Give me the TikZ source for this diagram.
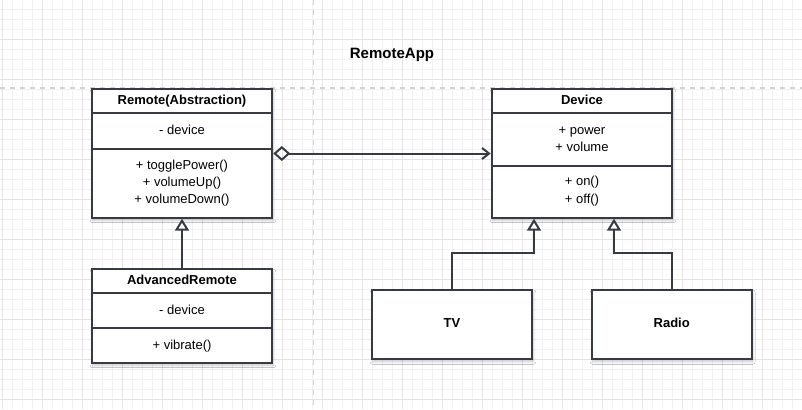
\documentclass[tikz,border=0pt]{standalone}
\usepackage{fontspec}
\setmainfont{Liberation Sans}
\usetikzlibrary{arrows.meta,shadows.blur}
\definecolor{ink}{HTML}{363B42}
\definecolor{gridminor}{HTML}{F1F1F1}
\definecolor{gridmajor}{HTML}{E4E4E4}
\definecolor{sepgray}{HTML}{D2D2D2}
\begin{document}
\begin{tikzpicture}[x=1bp,y=-1bp,
  cls/.style={draw=ink, line width=2bp, fill=white, inner sep=0pt,
    blur shadow={shadow xshift=1bp, shadow yshift=-2.5bp, shadow blur radius=2.5bp, shadow opacity=22}},
  txt/.style={font=\fontsize{13bp}{15.6bp}\selectfont, text=black, inner sep=0pt, anchor=base, yshift=-4.7bp},
  bold/.style={font=\fontsize{13bp}{15.6bp}\selectfont\bfseries, text=black, inner sep=0pt, anchor=base, yshift=-4.7bp},
  div/.style={draw=ink, line width=2bp},
  agg/.style={draw=ink, line width=2bp,
    {Diamond[open, length=17bp, width=15bp]}-{Straight Barb[length=7bp, width=11bp]}},
  gen/.style={draw=ink, line width=2bp, -{Triangle[open, length=12bp, width=14bp]}},
  sepline/.style={draw=sepgray, line width=1.5bp, dash pattern=on 5bp off 5bp}]
\useasboundingbox (0,0) rectangle (802,409);
\fill[white] (0,0) rectangle (802,409);
% grid
\foreach \x in {2.6,12.6,...,802} \draw[gridminor, line width=1bp] (\x,0) -- (\x,409);
\foreach \y in {9.3,19.3,...,409} \draw[gridminor, line width=1bp] (0,\y) -- (802,\y);
\foreach \x in {2.6,42.6,...,802} \draw[gridmajor, line width=1bp] (\x,0) -- (\x,409);
\foreach \y in {39.3,79.3,...,409} \draw[gridmajor, line width=1bp] (0,\y) -- (802,\y);
% separators
\draw[sepline] (0,88) -- (802,88);
\draw[sepline] (313.3,0) -- (313.3,409);
% title
\node[font=\fontsize{15bp}{18bp}\selectfont\bfseries, inner sep=0pt, anchor=base, yshift=-5.4bp] (title) at (392,52.7) {RemoteApp};
% Remote
\node[cls, minimum width=180.6bp, minimum height=128.4bp] (remote) at (182,153.5) {};
\draw[div] (remote.west |- 0,113.3) -- (remote.east |- 0,113.3);
\draw[div] (remote.west |- 0,149) -- (remote.east |- 0,149);
\node[bold] (remoteT) at (182,100) {Remote(Abstraction)};
\node[txt] (remoteA) at (182,129.3) {- device};
\node[txt] (remoteM1) at (182,165) {+ togglePower()};
\node[txt] (remoteM2) at (182,181.7) {+ volumeUp()};
\node[txt] (remoteM3) at (182,199) {+ volumeDown()};
% Device
\node[cls, minimum width=180.6bp, minimum height=128.4bp] (device) at (582,153.5) {};
\draw[div] (device.west |- 0,113.3) -- (device.east |- 0,113.3);
\draw[div] (device.west |- 0,165.7) -- (device.east |- 0,165.7);
\node[bold] (deviceT) at (582,100) {Device};
\node[txt] (deviceA1) at (582,129.3) {+ power};
\node[txt] (deviceA2) at (582,146.7) {+ volume};
\node[txt] (deviceM1) at (582,181) {+ on()};
\node[txt] (deviceM2) at (582,198.3) {+ off()};
% AdvancedRemote
\node[cls, minimum width=180.6bp, minimum height=93.4bp] (adv) at (182,316) {};
\draw[div] (adv.west |- 0,292.7) -- (adv.east |- 0,292.7);
\draw[div] (adv.west |- 0,328.3) -- (adv.east |- 0,328.3);
\node[bold] (advT) at (182,280) {AdvancedRemote};
\node[txt] (advA) at (182,309.3) {- device};
\node[txt] (advM) at (182,345) {+ vibrate()};
% TV and Radio
\node[cls, minimum width=160.6bp, minimum height=69.3bp] (tv) at (452,324.65) {};
\node[bold] (tvT) at (452,323) {TV};
\node[cls, minimum width=160bp, minimum height=69.3bp] (radio) at (671.7,324.65) {};
\node[bold] (radioT) at (671.7,323) {Radio};
% connectors
\draw[agg] (remote.east) -- (device.west);
\draw[gen] (adv.north) -- (remote.south);
\draw[gen] (tv.north) -- (tv.north |- 0,253.3) -| ([xshift=-48bp]device.south);
\draw[gen] (radio.north) -- (radio.north |- 0,253.3) -| ([xshift=32bp]device.south);
\end{tikzpicture}
\end{document}
